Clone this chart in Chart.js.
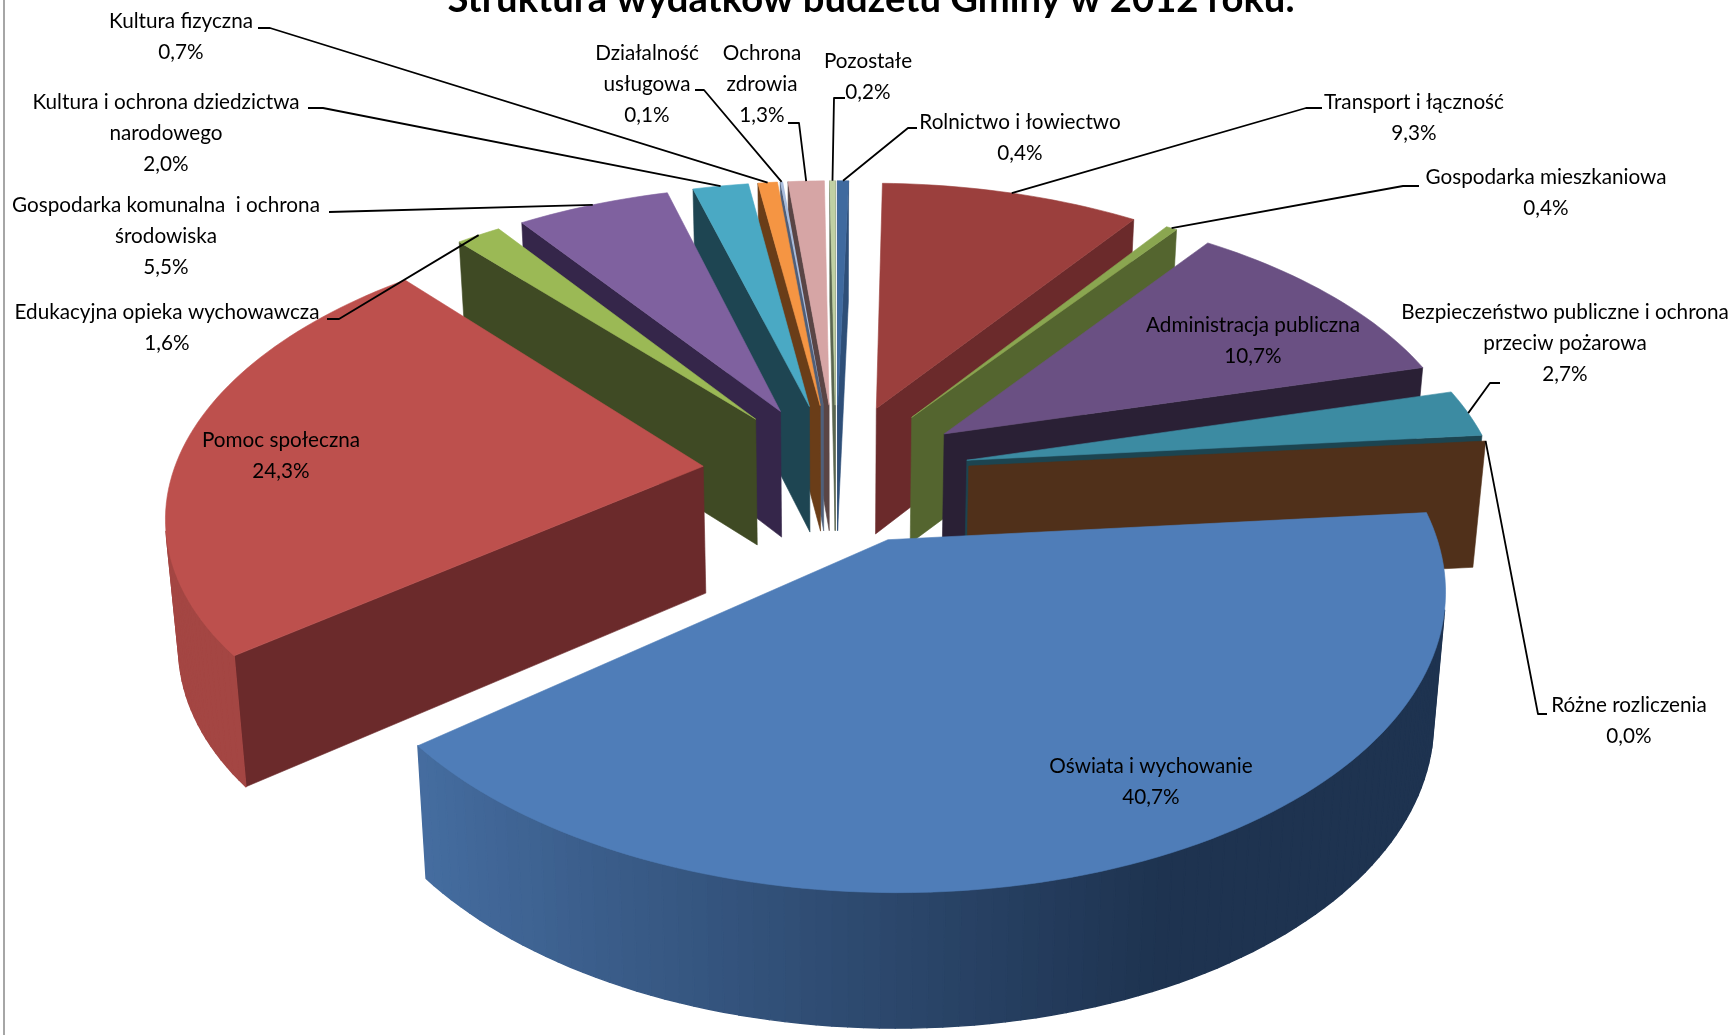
<!DOCTYPE html>
<html>
<head>
<meta charset="utf-8">
<title>Struktura wydatków budżetu Gminy</title>
<script src="https://cdn.jsdelivr.net/npm/chart.js@4/dist/chart.umd.js"></script>
<style>
    html, body { margin: 0; padding: 0; background: #fff; overflow: hidden; }
    canvas { display: block; }
</style>
</head>
<body>
<canvas id="pie" width="1735" height="1035"></canvas>
<script>
const title_text = 'Struktura wydatków budżetu Gminy w 2012 roku.';

const categories = ['Rolnictwo i łowiectwo', 'Transport i łączność', 'Gospodarka mieszkaniowa', 'Administracja publiczna',
    'Bezpieczeństwo publiczne i ochrona przeciw pożarowa', 'Różne rozliczenia', 'Oświata i wychowanie', 'Pomoc społeczna',
    'Edukacyjna opieka wychowawcza', 'Gospodarka komunalna i ochrona środowiska', 'Kultura i ochrona dziedzictwa narodowego',
    'Kultura fizyczna', 'Działalność usługowa', 'Ochrona zdrowia', 'Pozostałe'];
const values = [0.4, 9.3, 0.4, 10.7, 2.7, 0.005, 40.7, 24.3, 1.6, 5.5, 2.0, 0.7, 0.1, 1.3, 0.2];

// how the names break over lines in the labels
const label_lines = [
    ['Rolnictwo i łowiectwo'], ['Transport i łączność'], ['Gospodarka mieszkaniowa'], ['Administracja publiczna'],
    ['Bezpieczeństwo publiczne i ochrona', 'przeciw pożarowa'], ['Różne rozliczenia'], ['Oświata i wychowanie'], ['Pomoc społeczna'],
    ['Edukacyjna opieka wychowawcza'], ['Gospodarka komunalna  i ochrona', 'środowiska'], ['Kultura i ochrona dziedzictwa', 'narodowego'],
    ['Kultura fizyczna'], ['Działalność', 'usługowa'], ['Ochrona', 'zdrowia'], ['Pozostałe']
];

const top_colors = ['#3f6a9f', '#9b3f3d', '#8aa650', '#6a5083', '#3c8ba2', '#e08a3b', '#4f7db8', '#bd504d',
    '#9bb955', '#7f619f', '#4aa9c4', '#f59543', '#a9bcdc', '#d6a5a5', '#c0d0a3'];
const cut_colors = ['#2e4f78', '#6b2a2b', '#54652f', '#2a2035', '#1c4450', '#50301a', '#1e3350', '#6b2a2b',
    '#3f4a24', '#35264a', '#1e4552', '#6a3d18', '#4f5f7a', '#5a4545', '#5a6650'];

// label centre x, y of first line centre
const label_pos = [[1020, 122], [1414, 102], [1546, 177], [1253, 325], [1565, 312], [1629, 705], [1151, 766], [281, 440],
    [167, 312], [166, 205], [166, 102], [181, 21], [647, 53], [762, 53], [868, 61]];
// leader line: start beside the text, knee. null = label sits on the slice
const leader_start = [[917, 128], [1322, 108], [1419, 186], null, [1500, 383], [1547, 714], null, null,
    [327, 319], [329, 212], [308, 108], [258, 28], [695, 90], [788, 123], [845, 98]];
const leader_knee = [[908, 128], [1306, 108], [1403, 186], null, [1490, 383], [1538, 714], null, null,
    [339, 319], [329, 212], [323, 108], [270, 28], [704, 90], [799, 123], [834, 98]];

const line_height = 31;
const label_font = '21px Lato';
const text_squeeze = 0.985;

// view of the pie: centre, horizontal and vertical scale, perspective, wall height
const view = { cx: 836, cy: 472.5, f: 530, g: 277, k: 0.151, q: 0.02, h: 127 };

function project(u, v, t){
    const w = 1 + view.k * v;
    const w2 = w * (1 + view.q * t);
    return [view.cx + view.f * u / w2, view.cy - view.g * v / w2 + view.h * t / Math.pow(w, 0.6)];
}

function hexToRgb(hex){
    return [1, 3, 5].map(i => parseInt(hex.slice(i, i + 2), 16));
}

function mix(a, b, t){
    const c1 = hexToRgb(a);
    const c2 = hexToRgb(b);
    return '#' + c1.map((c, i) => Math.round(c + (c2[i] - c) * t).toString(16).padStart(2, '0')).join('');
}

function polygonArea(pts){
    let sum = 0;
    for(let i = 0; i < pts.length; i++){
        const a = pts[i];
        const b = pts[(i + 1) % pts.length];
        sum += a[0] * b[1] - b[0] * a[1];
    }
    return sum;
}

function fillPolygon(ctx, pts, color, edge){
    ctx.beginPath();
    pts.forEach((p, i) => i == 0 ? ctx.moveTo(p[0], p[1]) : ctx.lineTo(p[0], p[1]));
    ctx.closePath();
    ctx.fillStyle = color;
    ctx.fill();
    if(edge > 0){
        ctx.strokeStyle = color;
        ctx.lineWidth = edge;
        ctx.stroke();
    }
}

// outline of a slice from the geometry chart.js worked out for it, radius 1 = outer radius
function sliceOutline(arc){
    const props = arc.getProps(['startAngle', 'endAngle', 'outerRadius']);
    const from = props.startAngle + Math.PI / 2;
    const to = props.endAngle + Math.PI / 2;
    const mid = (from + to) / 2;
    const e = arc.options.offset / props.outerRadius;
    const ou = e * Math.sin(mid);
    const ov = e * Math.cos(mid);
    const steps = Math.max(1, Math.ceil((to - from) / 0.025));
    const rim = [];
    for(let s = 0; s <= steps; s++){
        const a = from + (to - from) * s / steps;
        rim.push({ u: ou + Math.sin(a), v: ov + Math.cos(a), angle: a });
    }
    return { apex: { u: ou, v: ov }, rim: rim, mid: mid, ou: ou, ov: ov, sweep: to - from };
}

function drawWall(ctx, a, b, color, edge){
    const quad = [project(a.u, a.v, 0), project(b.u, b.v, 0), project(b.u, b.v, 1), project(a.u, a.v, 1)];
    if(polygonArea(quad) < 0)
        fillPolygon(ctx, quad, color, edge);
}

function drawSlice(ctx, arc, index){
    const shape = sliceOutline(arc);
    const top = top_colors[index];
    const cut = cut_colors[index];
    const ring = [shape.apex].concat(shape.rim);

    drawWall(ctx, shape.apex, shape.rim[0], cut, 0.6);
    drawWall(ctx, shape.rim[shape.rim.length - 1], shape.apex, cut, 0.6);
    for(let i = 0; i < shape.rim.length - 1; i++){
        const a = shape.rim[i];
        const shade = Math.min(1, Math.max(0, (Math.sin(a.angle) + 0.78) / 1.2));
        drawWall(ctx, a, shape.rim[i + 1], mix(mix(top, '#000000', 0.13), cut, shade), 1.4);
    }
    fillPolygon(ctx, ring.map(p => project(p.u, p.v, 0)), top, shape.sweep < 0.01 ? 0 : 0.6);
}

function drawLabels(ctx, meta){
    ctx.textAlign = 'center';
    ctx.textBaseline = 'middle';
    ctx.font = label_font;
    ctx.fillStyle = '#000';
    categories.forEach((name, i) => {
        const lines = label_lines[i].concat([values[i].toFixed(1).replace('.', ',') + '%']);
        lines.forEach((line, n) => {
            ctx.save();
            ctx.translate(label_pos[i][0], label_pos[i][1] + n * line_height);
            ctx.scale(text_squeeze, 1);
            ctx.fillText(line, 0, 0);
            ctx.restore();
        });
    });
}

function drawLeaders(ctx, meta){
    ctx.strokeStyle = '#000';
    ctx.lineWidth = 1.8;
    meta.data.forEach((arc, i) => {
        if(!leader_start[i])
            return;
        const shape = sliceOutline(arc);
        const end = project(shape.ou + Math.sin(shape.mid), shape.ov + Math.cos(shape.mid), 0);
        ctx.beginPath();
        ctx.moveTo(leader_start[i][0], leader_start[i][1]);
        ctx.lineTo(leader_knee[i][0], leader_knee[i][1]);
        ctx.lineTo(end[0], end[1]);
        ctx.stroke();
    });
}

const pie_3d = {
    id: 'pie_3d',
    beforeDatasetDraw(chart, args){
        const ctx = chart.ctx;
        const meta = args.meta;
        const order = meta.data.map((arc, i) => i);
        const depth = order.map(i => sliceOutline(meta.data[i]).ov);
        order.sort((a, b) => depth[b] - depth[a]);

        ctx.save();
        ctx.lineJoin = 'round';
        for(const i of order){
            drawSlice(ctx, meta.data[i], i);
        }
        drawLeaders(ctx, meta);
        drawLabels(ctx, meta);

        ctx.font = 'bold 38.5px Lato';
        ctx.textAlign = 'center';
        ctx.textBaseline = 'alphabetic';
        ctx.fillStyle = '#000';
        ctx.fillText(title_text, 871, 12, 847);

        ctx.strokeStyle = '#a6a6a6';
        ctx.lineWidth = 2;
        ctx.beginPath();
        ctx.moveTo(4, 0);
        ctx.lineTo(4, 1035);
        ctx.stroke();
        ctx.restore();
        return false;
    }
};

const ctx = document.getElementById('pie').getContext('2d');
const pie_chart = new Chart(ctx, {
    type: 'pie',
    data: {
        labels: categories,
        datasets: [{
            label: title_text,
            data: values,
            backgroundColor: top_colors,
            borderWidth: 0,
            offset: 116
        }]
    },
    options: {
        responsive: false,
        animation: false,
        plugins: {
            legend: { display: false },
            tooltip: { enabled: false }
        }
    },
    plugins: [pie_3d]
});
</script>
</body>
</html>
